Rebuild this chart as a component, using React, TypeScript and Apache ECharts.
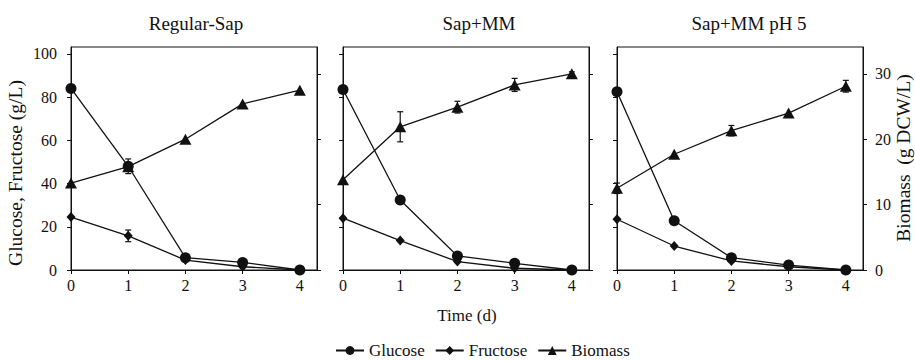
import React, { useEffect, useRef } from 'react';
import * as echarts from 'echarts';

const days = [0, 1, 2, 3, 4];
const panelTitles = ['Regular-Sap', 'Sap+MM', 'Sap+MM pH 5'];
const seriesNames = ['Glucose', 'Fructose', 'Biomass'];
const sugarTicks = [0, 20, 40, 60, 80, 100];
const biomassTicks = [0, 10, 20, 30];

const glucose1 = [84, 48, 5.7, 3.5, 0];
const fructose1 = [24.5, 15.8, 4.6, 1.5, 0];
const biomass1 = [13.3, 15.8, 20.0, 25.4, 27.5];
const glucose2 = [83.5, 32.4, 6.5, 3.1, 0];
const fructose2 = [24, 13.6, 3.9, 0.8, 0];
const biomass2 = [13.8, 21.9, 24.9, 28.3, 30.0];
const glucose3 = [82.5, 22.8, 5.7, 2.3, 0];
const fructose3 = [23.5, 11.1, 4.2, 1.5, 0];
const biomass3 = [12.5, 17.7, 21.3, 24.0, 28.1];

const glucoseErr1 = [0, 3.4, 0, 0, 0];
const fructoseErr1 = [0, 2.7, 0, 0, 0];
const biomassErr2 = [0, 2.3, 0.9, 1.0, 0.3];
const biomassErr3 = [0.8, 0, 0.8, 0, 0.9];

const FONT = 'Liberation Serif';
const INK = '#111';

const panels = [
  { title: panelTitles[0], g: glucose1, f: fructose1, b: biomass1, gErr: glucoseErr1, fErr: fructoseErr1, bErr: null as number[] | null },
  { title: panelTitles[1], g: glucose2, f: fructose2, b: biomass2, gErr: null as number[] | null, fErr: null as number[] | null, bErr: biomassErr2 },
  { title: panelTitles[2], g: glucose3, f: fructose3, b: biomass3, gErr: null as number[] | null, fErr: null as number[] | null, bErr: biomassErr3 },
];

const gridLefts = [71, 343, 617];
const titleCenters = [196, 479, 749];
const GRID_W = 246;
const GRID_TOP = 47;
const GRID_H = 223;

function errData(vals: number[], errs: number[] | null) {
  if (!errs) return [];
  const out: number[][] = [];
  days.forEach((d, i) => {
    if (errs[i] > 0) out.push([d, vals[i] - errs[i], vals[i] + errs[i]]);
  });
  return out;
}

const renderErr = (params: any, api: any) => {
  const x = api.value(0);
  const p1 = api.coord([x, api.value(1)]);
  const p2 = api.coord([x, api.value(2)]);
  const w = 3;
  const st = { stroke: INK, lineWidth: 1.2 };
  return {
    type: 'group',
    children: [
      { type: 'line', shape: { x1: p1[0], y1: p1[1], x2: p2[0], y2: p2[1] }, style: st },
      { type: 'line', shape: { x1: p1[0] - w, y1: p1[1], x2: p1[0] + w, y2: p1[1] }, style: st },
      { type: 'line', shape: { x1: p2[0] - w, y1: p2[1], x2: p2[0] + w, y2: p2[1] }, style: st },
    ],
  };
};

function txt(text: string, x: number, y: number, size: number, rotation = 0) {
  return {
    type: 'text', x, y, rotation,
    style: {
      text, fill: INK, fontFamily: FONT, fontSize: size,
      textAlign: 'center', textVerticalAlign: 'middle',
    },
  };
}

export default function App() {
  const ref = useRef<HTMLDivElement>(null);
  useEffect(() => {
    document.body.style.margin = '0';
    if (!ref.current) return;
    const chart = echarts.init(ref.current, null, { renderer: 'svg' });

    const grid: any[] = [];
    const xAxis: any[] = [];
    const yAxis: any[] = [];
    const series: any[] = [];
    const axisLine = { show: true, lineStyle: { color: INK, width: 1 } };
    const tickStyle = { show: true, length: 4, inside: false, lineStyle: { color: INK, width: 1 } };
    const labelStyle = { color: INK, fontFamily: FONT, fontSize: 16 };

    panels.forEach((p, i) => {
      grid.push({
        left: gridLefts[i], top: GRID_TOP, width: GRID_W, height: GRID_H,
        show: true, borderColor: INK, borderWidth: 1, backgroundColor: 'transparent',
      });
      xAxis.push({
        type: 'value', gridIndex: i, min: 0, max: 4.3,
        axisLine, splitLine: { show: false },
        axisTick: { ...tickStyle, customValues: days },
        axisLabel: { ...labelStyle, margin: 7, customValues: days },
      });
      yAxis.push({
        type: 'value', gridIndex: i, position: 'left', min: 0, max: 103.2,
        axisLine, splitLine: { show: false },
        axisTick: { ...tickStyle, customValues: sugarTicks },
        axisLabel: { ...labelStyle, show: i === 0, margin: 14, customValues: sugarTicks },
      });
      yAxis.push({
        type: 'value', gridIndex: i, position: 'right', min: 0, max: 34.1,
        axisLine, splitLine: { show: false },
        axisTick: { ...tickStyle, customValues: biomassTicks },
        axisLabel: { ...labelStyle, show: i === 2, margin: 12, customValues: biomassTicks },
      });
      const common = {
        type: 'line', xAxisIndex: i, lineStyle: { color: INK, width: 1.3 },
        itemStyle: { color: INK }, showAllSymbol: true, z: 3,
      };
      series.push({
        ...common, name: seriesNames[0], yAxisIndex: 2 * i, symbol: 'circle', symbolSize: 11,
        data: days.map((d, k) => [d, p.g[k]]),
      });
      series.push({
        ...common, name: seriesNames[1], yAxisIndex: 2 * i, symbol: 'diamond', symbolSize: [9, 10],
        data: days.map((d, k) => [d, p.f[k]]),
      });
      series.push({
        ...common, name: seriesNames[2], yAxisIndex: 2 * i + 1, symbol: 'triangle', symbolSize: [12, 11],
        data: days.map((d, k) => [d, p.b[k]]),
      });
      const errSets = [
        { data: errData(p.g, p.gErr), y: 2 * i },
        { data: errData(p.f, p.fErr), y: 2 * i },
        { data: errData(p.b, p.bErr), y: 2 * i + 1 },
      ];
      errSets.forEach((e) => {
        if (e.data.length) {
          series.push({
            type: 'custom', xAxisIndex: i, yAxisIndex: e.y, renderItem: renderErr,
            encode: { x: 0, y: [1, 2] }, data: e.data, z: 2, silent: true,
          });
        }
      });
    });

    const graphic: any[] = [];
    panels.forEach((p, i) => graphic.push(txt(p.title, titleCenters[i], 23, 19)));
    graphic.push(txt('Glucose, Fructose (g/L)', 15.5, 173, 19.5, Math.PI / 2));
    graphic.push(txt('Biomass  (g DCW/L)', 903, 158, 19.5, Math.PI / 2));
    graphic.push(txt('Time (d)', 467, 315, 17));

    chart.setOption({
      animation: false,
      backgroundColor: '#fff',
      grid, xAxis, yAxis, series, graphic,
      legend: {
        data: seriesNames, left: 335, top: 342, padding: 0, itemWidth: 28, itemHeight: 11, itemGap: 10,
        textStyle: { color: INK, fontFamily: FONT, fontSize: 17 },
      },
    });
    return () => chart.dispose();
  }, []);
  return <div ref={ref} style={{ width: 915, height: 361 }} />;
}
